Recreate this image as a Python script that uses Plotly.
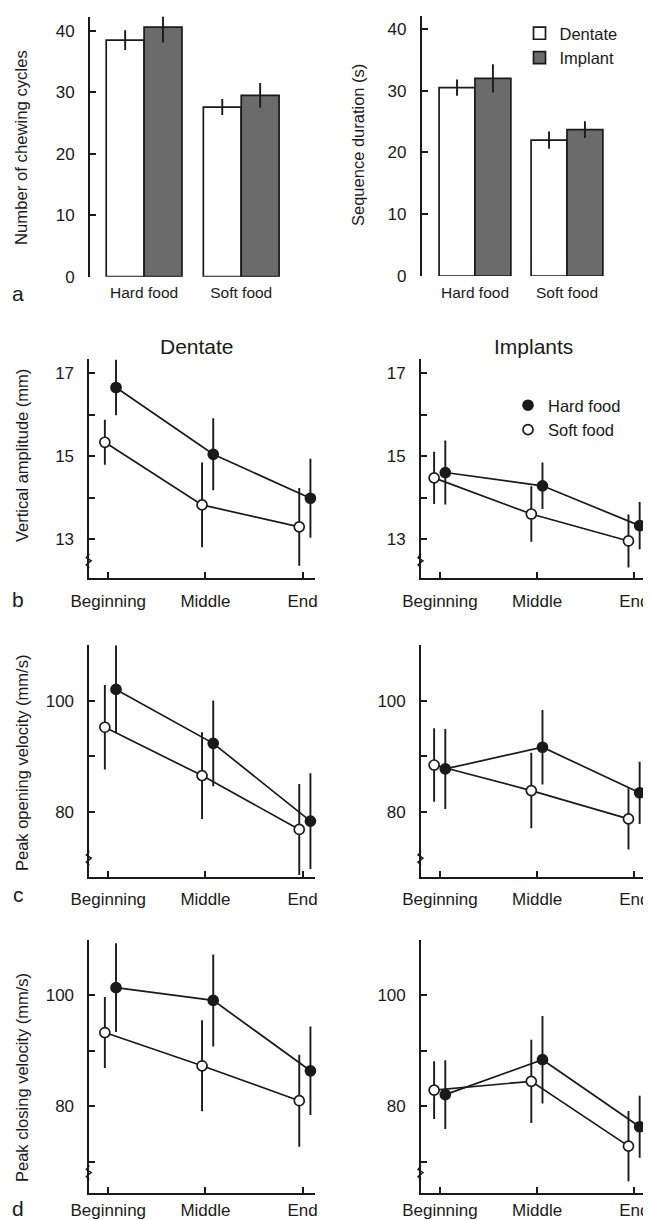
import plotly.graph_objects as go

# The page body has an 8px margin, so the figure is drawn 8px in from the
# window's top-left corner; the layout below is expressed in window pixels.
PAGE_W, PAGE_H, OFF = 651, 1220, 8
W, H = PAGE_W - OFF, PAGE_H - OFF

# ---------------- data ----------------
foods = ["Hard food", "Soft food"]
stages = ["Beginning", "Middle", "End"]

cycles_dentate = [38.5, 27.6]
cycles_dentate_err = [1.6, 1.3]
cycles_implant = [40.6, 29.5]
cycles_implant_err = [2.5, 2.0]

duration_dentate = [30.5, 22.0]
duration_dentate_err = [1.3, 1.4]
duration_implant = [32.0, 23.7]
duration_implant_err = [2.3, 1.35]

amp_dent_hard = [16.66, 15.05, 13.99]
amp_dent_hard_err = [0.67, 0.87, 0.95]
amp_dent_soft = [15.34, 13.83, 13.30]
amp_dent_soft_err = [0.54, 1.02, 0.94]
amp_impl_hard = [14.61, 14.29, 13.33]
amp_impl_hard_err = [0.77, 0.56, 0.57]
amp_impl_soft = [14.48, 13.61, 12.96]
amp_impl_soft_err = [0.63, 0.67, 0.64]

open_dent_hard = [102.0, 92.3, 78.3]
open_dent_hard_err = [7.9, 7.7, 8.6]
open_dent_soft = [95.2, 86.5, 76.8]
open_dent_soft_err = [7.6, 7.8, 8.2]
open_impl_hard = [87.7, 91.6, 83.4]
open_impl_hard_err = [7.2, 6.7, 5.6]
open_impl_soft = [88.4, 83.8, 78.7]
open_impl_soft_err = [6.6, 6.8, 5.5]

close_dent_hard = [101.4, 99.1, 86.4]
close_dent_hard_err = [8.0, 8.3, 8.0]
close_dent_soft = [93.3, 87.3, 81.0]
close_dent_soft_err = [6.4, 8.2, 8.3]
close_impl_hard = [82.1, 88.4, 76.3]
close_impl_hard_err = [6.2, 7.9, 5.6]
close_impl_soft = [82.9, 84.5, 72.8]
close_impl_soft_err = [5.2, 7.5, 6.35]

# ---------------- style ----------------
FONT = "Liberation Sans, Arial, sans-serif"
INK = "#1a1a1a"
DARK_BAR = "#6b6b6b"
FS = 17


def px_x(p):
    return (p - OFF) / W


def px_y(p):
    return 1 - (p - OFF) / H


fig = go.Figure()

# panel pixel boxes: (x0, x1, ytop, ybottom), axis ranges
panels = {
    1: dict(box=(90, 282, 16.7, 276.7), xr=[-0.557, 1.42], yr=[0, 42.3]),
    2: dict(box=(421.7, 606, 16, 276), xr=[-0.579, 1.424], yr=[0, 42.1]),
    3: dict(box=(89.3, 315, 359.3, 578.3), xr=[-0.195, 2.127], yr=[12.06, 17.34]),
    4: dict(box=(421, 645, 359.3, 578.3), xr=[-0.195, 2.11], yr=[12.06, 17.34]),
    5: dict(box=(89.3, 315, 645, 876.7), xr=[-0.195, 2.127], yr=[68.3, 110]),
    6: dict(box=(421, 645, 645, 876.7), xr=[-0.195, 2.11], yr=[68.3, 110]),
    7: dict(box=(89.3, 315, 940, 1192.7), xr=[-0.195, 2.127], yr=[64.4, 110]),
    8: dict(box=(421, 645, 940, 1192.7), xr=[-0.195, 2.11], yr=[64.4, 110]),
}


def axname(i, kind):
    return kind + ("" if i == 1 else str(i))


# ---------------- bar panels ----------------
def add_bars(i, dent, dent_err, impl, impl_err, showlegend):
    xa, ya = axname(i, "x"), axname(i, "y")
    fig.add_trace(go.Bar(
        x=foods, y=dent, name="Dentate", xaxis=xa, yaxis=ya,
        marker=dict(color="white", line=dict(color=INK, width=1.7)),
        error_y=dict(type="data", array=dent_err, width=0, thickness=1.9, color=INK),
        offsetgroup="d", showlegend=showlegend, legend="legend", cliponaxis=False))
    fig.add_trace(go.Bar(
        x=foods, y=impl, name="Implant", xaxis=xa, yaxis=ya,
        marker=dict(color=DARK_BAR, line=dict(color=INK, width=1.7)),
        error_y=dict(type="data", array=impl_err, width=0, thickness=1.9, color=INK),
        offsetgroup="i", showlegend=showlegend, legend="legend", cliponaxis=False))


add_bars(1, cycles_dentate, cycles_dentate_err, cycles_implant, cycles_implant_err, False)
add_bars(2, duration_dentate, duration_dentate_err, duration_implant, duration_implant_err, True)


# ---------------- line panels ----------------
def add_lines(i, hard, hard_err, soft, soft_err, left_col, showlegend):
    xa, ya = axname(i, "x"), axname(i, "y")
    off_soft, off_hard = (-0.035, 0.08) if left_col else (-0.06, 0.055)
    xs = [k + off_soft for k in range(len(stages))]
    xh = [k + off_hard for k in range(len(stages))]
    for xv, yv in ((xs, soft), (xh, hard)):
        fig.add_trace(go.Scatter(x=xv, y=yv, mode="lines", xaxis=xa, yaxis=ya,
                                 line=dict(color=INK, width=1.7),
                                 showlegend=False, hoverinfo="skip", cliponaxis=False))
    fig.add_trace(go.Scatter(
        x=xs, y=soft, mode="markers", name="Soft food", xaxis=xa, yaxis=ya,
        marker=dict(symbol="circle", size=10, color="white", line=dict(color=INK, width=1.7)),
        error_y=dict(type="data", array=soft_err, width=0, thickness=1.9, color=INK),
        showlegend=False, legend="legend2", cliponaxis=False))
    fig.add_trace(go.Scatter(
        x=xh, y=hard, mode="markers", name="Hard food", xaxis=xa, yaxis=ya,
        marker=dict(symbol="circle", size=10, color=INK, line=dict(color=INK, width=1.7)),
        error_y=dict(type="data", array=hard_err, width=0, thickness=1.9, color=INK),
        showlegend=showlegend, legend="legend2", cliponaxis=False))
    if showlegend:
        # legend entry for the open circle (listed after filled)
        fig.add_trace(go.Scatter(
            x=[None], y=[None], mode="markers", name="Soft food", xaxis=xa, yaxis=ya,
            marker=dict(symbol="circle", size=10, color="white", line=dict(color=INK, width=1.7)),
            showlegend=True, legend="legend2"))


add_lines(3, amp_dent_hard, amp_dent_hard_err, amp_dent_soft, amp_dent_soft_err, True, False)
add_lines(4, amp_impl_hard, amp_impl_hard_err, amp_impl_soft, amp_impl_soft_err, False, True)
add_lines(5, open_dent_hard, open_dent_hard_err, open_dent_soft, open_dent_soft_err, True, False)
add_lines(6, open_impl_hard, open_impl_hard_err, open_impl_soft, open_impl_soft_err, False, False)
add_lines(7, close_dent_hard, close_dent_hard_err, close_dent_soft, close_dent_soft_err, True, False)
add_lines(8, close_impl_hard, close_impl_hard_err, close_impl_soft, close_impl_soft_err, False, False)

# ---------------- axes ----------------
ytick_cfg = {
    1: ([0, 10, 20, 30, 40], ["0", "10", "20", "30", "40"]),
    2: ([0, 10, 20, 30, 40], ["0", "10", "20", "30", "40"]),
    3: ([13, 14, 15, 16, 17], ["13", "", "15", "", "17"]),
    4: ([13, 14, 15, 16, 17], ["13", "", "15", "", "17"]),
    5: ([80, 90, 100, 110], ["80", "", "100", ""]),
    6: ([80, 90, 100, 110], ["80", "", "100", ""]),
    7: ([70, 80, 90, 100, 110], ["", "80", "", "100", ""]),
    8: ([70, 80, 90, 100, 110], ["", "80", "", "100", ""]),
}

layout = dict(
    width=W, height=H, margin=dict(l=0, r=0, t=0, b=0, autoexpand=False),
    paper_bgcolor="white", plot_bgcolor="white",
    font=dict(family=FONT, size=FS, color=INK),
    barmode="group", bargap=0.22, bargroupgap=0,
    showlegend=True,
    legend=dict(x=px_x(519.5), y=px_y(16), xanchor="left", yanchor="top",
                bgcolor="rgba(0,0,0,0)", font=dict(size=16.5), tracegroupgap=0,
                itemwidth=30, traceorder="normal"),
    legend2=dict(x=px_x(508), y=px_y(388), xanchor="left", yanchor="top",
                 bgcolor="rgba(0,0,0,0)", font=dict(size=16.5), tracegroupgap=0,
                 itemwidth=30, traceorder="normal"),
)

for i, p in panels.items():
    x0, x1, yt, yb = p["box"]
    bar = i in (1, 2)
    xa = dict(domain=[px_x(x0), px_x(x1)], range=p["xr"], anchor=axname(i, "y"),
              showgrid=False, zeroline=False, fixedrange=True,
              tickfont=dict(size=FS, family=FONT, color=INK))
    if bar:
        xa.update(type="category", showline=False, ticks="", ticklabelstandoff=5,
                  tickfont=dict(size=15.5, family=FONT, color=INK))
    else:
        xa.update(type="linear", tickvals=[0, 1, 2], ticktext=stages,
                  showline=True, linecolor=INK, linewidth=1.7,
                  ticks="inside", ticklen=6, tickwidth=1.7, tickcolor=INK,
                  ticklabelstandoff=6 if i < 7 else 1)
    tv, tt = ytick_cfg[i]
    ya = dict(domain=[px_y(yb), px_y(yt)], range=p["yr"], anchor=axname(i, "x"),
              showgrid=False, zeroline=False, fixedrange=True,
              showline=True, linecolor=INK, linewidth=1.7,
              ticks="inside", ticklen=6, tickwidth=1.7, tickcolor=INK,
              tickvals=tv, ticktext=tt, ticklabelstandoff=10,
              tickfont=dict(size=FS, family=FONT, color=INK))
    layout["xaxis" if i == 1 else f"xaxis{i}"] = xa
    layout["yaxis" if i == 1 else f"yaxis{i}"] = ya

fig.update_layout(**layout)

# ---------------- annotations ----------------
ann = []


def text(xp, yp, s, size=FS, angle=0):
    ann.append(dict(x=px_x(xp), y=px_y(yp), xref="paper", yref="paper", text=s,
                    showarrow=False, textangle=angle, xanchor="center", yanchor="middle",
                    font=dict(size=size, family=FONT, color=INK)))


text(22, 148, "Number of chewing cycles", size=16.7, angle=-90)
text(358, 145, "Sequence duration (s)", size=16.5, angle=-90)
text(22, 456, "Vertical amplitude (mm)", size=16.5, angle=-90)
text(22, 763, "Peak opening velocity (mm/s)", size=16.5, angle=-90)
text(22, 1078, "Peak closing velocity (mm/s)", size=16.5, angle=-90)
text(197, 346, "Dentate", size=21)
text(533, 346, "Implants", size=21)
text(18, 293, "a", size=21)
text(18, 599, "b", size=21)
text(18, 895, "c", size=21)
text(18, 1208, "d", size=21)
fig.update_layout(annotations=ann)

# axis break marks on the line panels' y axes
for i in range(3, 9):
    fig.add_shape(type="path", xref=axname(i, "x") + " domain", yref=axname(i, "y") + " domain",
                  xsizemode="pixel", ysizemode="pixel", xanchor=0, yanchor=0.08,
                  path="M0,-7 L-3,-4 L2,0 L-3,3 L0,7",
                  line=dict(color=INK, width=1.4))

fig.write_html("out.html")
